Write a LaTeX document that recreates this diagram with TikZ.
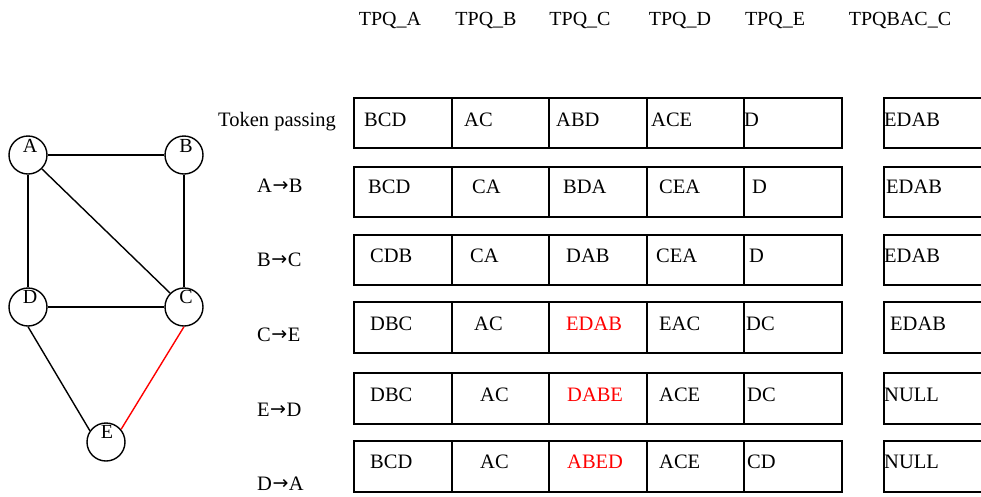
\documentclass[tikz,border=0pt]{standalone}
\usepackage{fontspec}
\setmainfont{Liberation Serif}
\newfontfamily\arrowfont{DejaVu Sans}
% short arrow with a filled head, used in the step labels
\newcommand\stepto{\hspace{0.5pt}\raisebox{0.6pt}{\fontsize{19}{22}\arrowfont →}\hspace{0.5pt}}
\begin{document}
\begin{tikzpicture}[x=1pt,y=-1pt,
  vert/.style={circle, draw, line width=1.4pt, minimum size=38pt, inner sep=0pt},
  vlabel/.style={anchor=base, inner sep=0pt, font=\fontsize{20}{24}\selectfont},
  edge/.style={line width=1.4pt},
  cellbox/.style={line width=1.8pt},
  txt/.style={anchor=base west, inner sep=0pt, font=\fontsize{20.5}{24}\selectfont},
  head/.style={anchor=base, inner sep=0pt, font=\fontsize{20}{24}\selectfont},
  hot/.style={txt, text=red}]
\path[use as bounding box] (0,0) rectangle (981,496);
\clip (0,0) rectangle (981,496);

% column headings
\foreach \n/\x/\s in {hA/390/TPQ\_A, hB/486/TPQ\_B, hC/580/TPQ\_C, hD/680/TPQ\_D, hE/775/TPQ\_E, hX/900/TPQBAC\_C}
  \node[head] (\n) at (\x,25) {\s};

% graph
\node[vert] (A) at (28,155) {};
\node[vert] (B) at (184,155) {};
\node[vert] (D) at (28,307) {};
\node[vert] (C) at (184,307) {};
\node[vert] (E) at (106,442) {};
\node[vlabel] (lA) at (30,152) {A};
\node[vlabel] (lB) at (186,152) {B};
\node[vlabel] (lD) at (30,303) {D};
\node[vlabel] (lC) at (186,303) {C};
\node[vlabel] (lE) at (107,438) {E};
\draw[edge] (A.east) -- (B.west);
\draw[edge] (A.south) -- (D.north);
\draw[edge] (B.south) -- (C.north);
\draw[edge] (A.south east) -- (C.north west);
\draw[edge] (D.east) -- (C.west);
\draw[edge] (D.south) -- (E.145);
\draw[edge, red] (C.south) -- (E.40);

% queue tables
\foreach \t/\b in {98/148, 167/217, 235/285, 302/353, 373/424, 441/492} {
  \draw[cellbox] (354,\t) rectangle (842,\b);
  \foreach \x in {452,549,647,744} \draw[cellbox] (\x,\t) -- (\x,\b);
  \draw[cellbox] (884,\t) rectangle (995,\b);
}

% row labels
\node[txt] (L0) at (218,126) {Token passing};
\node[txt] (L1) at (257,192) {A\stepto B};
\node[txt] (L2) at (257,266) {B\stepto C};
\node[txt] (L3) at (257,341) {C\stepto E};
\node[txt] (L4) at (257,416) {E\stepto D};
\node[txt] (L5) at (257,490) {D\stepto A};

% queue contents
\foreach \i/\x/\s in {1/364/BCD, 2/464/AC, 3/556/ABD, 4/651/ACE, 5/744/D, 6/884/EDAB}
  \node[txt] (r1c\i) at (\x,126) {\s};
\foreach \i/\x/\s in {1/368/BCD, 2/472/CA, 3/563/BDA, 4/659/CEA, 5/752/D, 6/886/EDAB}
  \node[txt] (r2c\i) at (\x,193) {\s};
\foreach \i/\x/\s in {1/370/CDB, 2/470/CA, 3/566/DAB, 4/656/CEA, 5/749/D, 6/884/EDAB}
  \node[txt] (r3c\i) at (\x,262) {\s};
\foreach \i/\x/\s in {1/370/DBC, 2/474/AC, 4/659/EAC, 5/746/DC, 6/890/EDAB}
  \node[txt] (r4c\i) at (\x,330) {\s};
\node[hot] (r4c3) at (566,330) {EDAB};
\foreach \i/\x/\s in {1/370/DBC, 2/480/AC, 4/659/ACE, 5/747/DC, 6/884/NULL}
  \node[txt] (r5c\i) at (\x,401) {\s};
\node[hot] (r5c3) at (567,401) {DABE};
\foreach \i/\x/\s in {1/370/BCD, 2/480/AC, 4/659/ACE, 5/747/CD, 6/884/NULL}
  \node[txt] (r6c\i) at (\x,468) {\s};
\node[hot] (r6c3) at (567,468) {ABED};
\end{tikzpicture}
\end{document}
